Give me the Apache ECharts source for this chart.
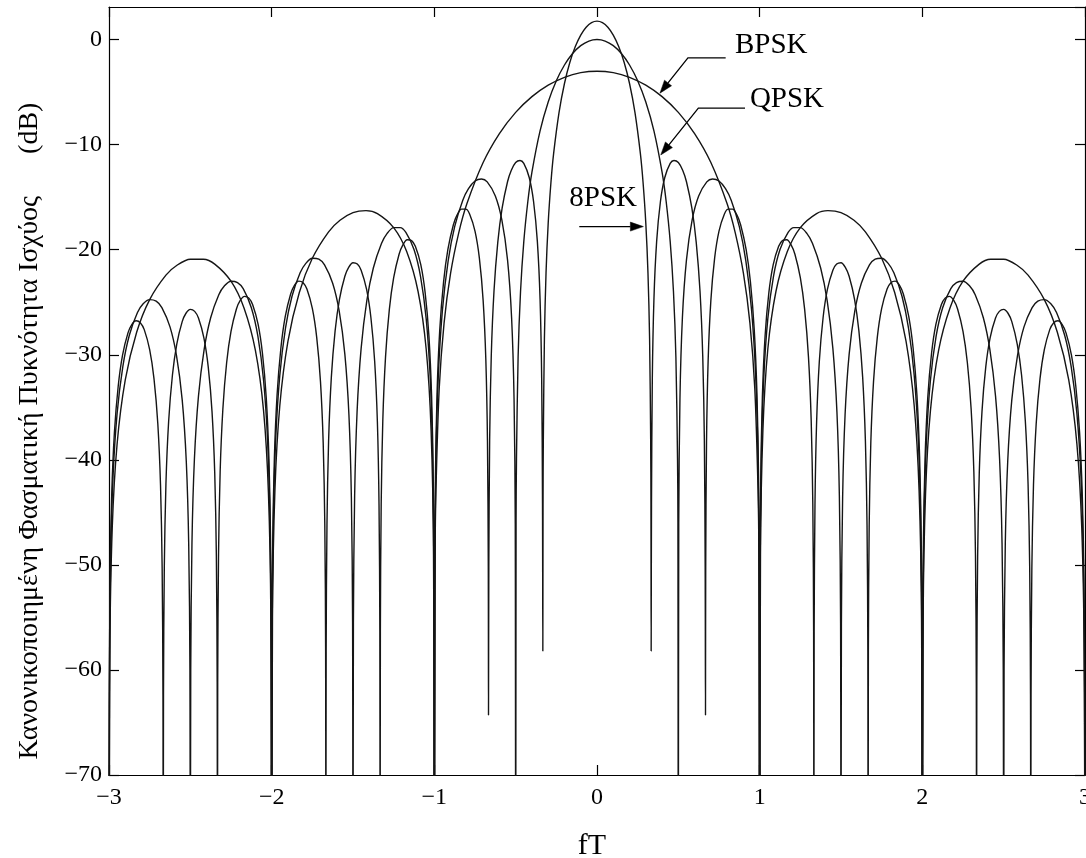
<!DOCTYPE html>
<html>
<head>
<meta charset="utf-8">
<script src="https://cdn.jsdelivr.net/npm/echarts@6/dist/echarts.min.js"></script>
<style>
html,body{margin:0;padding:0;background:#fff;overflow:hidden;width:1086px;height:858px;}
#chart{width:1086px;height:858px;}
</style>
</head>
<body>
<div id="chart"></div>
<script>
// ---------------- data ----------------
const xTicks = [-3, -2, -1, 0, 1, 2, 3];
const yTicks = [-70, -60, -50, -40, -30, -20, -10, 0];

const bpskF = [
-3, -2.995, -2.98, -2.95, -2.9, -2.83, -2.75, -2.65, -2.58, -2.5, -2.42, -2.35, -2.25, -2.17, -2.1, -2.05, -2.02, -2.005,
-2, -1.995, -1.98, -1.95, -1.9, -1.83, -1.75, -1.65, -1.58, -1.5, -1.42, -1.35, -1.25, -1.17, -1.1, -1.05, -1.02, -1.005,
-1, -0.995, -0.99, -0.97, -0.94, -0.9, -0.85, -0.8, -0.7, -0.6, -0.5, -0.4, -0.3, -0.2, -0.1,
0, 0.1, 0.2, 0.3, 0.4, 0.5, 0.6, 0.7, 0.8, 0.85, 0.9, 0.94, 0.97, 0.99, 0.995,
1, 1.005, 1.02, 1.05, 1.1, 1.17, 1.25, 1.35, 1.42, 1.5, 1.58, 1.65, 1.75, 1.83, 1.9, 1.95, 1.98, 1.995,
2, 2.005, 2.02, 2.05, 2.1, 2.17, 2.25, 2.35, 2.42, 2.5, 2.58, 2.65, 2.75, 2.83, 2.9, 2.95, 2.98, 2.995,
3];
const bpskDb = [
-90, -58.56, -46.47, -38.46, -32.40, -27.86, -24.75, -22.42, -21.46, -20.91, -20.91, -21.37, -23.00, -25.55, -29.59, -35.30, -43.10, -55.07,
-90, -55.03, -42.92, -34.86, -28.73, -24.07, -20.82, -18.30, -17.20, -16.47, -16.28, -16.56, -17.90, -20.18, -23.98, -29.48, -37.16, -49.07,
-90, -48.99, -42.92, -33.22, -26.96, -22.24, -18.40, -15.63, -11.70, -8.95, -6.93, -5.43, -4.34, -3.59, -3.15,
-3.01, -3.15, -3.59, -4.34, -5.43, -6.93, -8.95, -11.70, -15.63, -18.40, -22.24, -26.96, -33.22, -42.92, -48.99,
-90, -49.07, -37.16, -29.48, -23.98, -20.18, -17.90, -16.56, -16.28, -16.47, -17.20, -18.30, -20.82, -24.07, -28.73, -34.86, -42.92, -55.03,
-90, -55.07, -43.10, -35.30, -29.59, -25.55, -23.00, -21.37, -20.91, -20.91, -21.46, -22.42, -24.75, -27.86, -32.40, -38.46, -46.47, -58.56,
-90];

const qpskF = [
-3, -2.9975, -2.99, -2.975, -2.95, -2.915, -2.875, -2.825, -2.79, -2.75, -2.71, -2.675, -2.625, -2.585, -2.55, -2.525, -2.51, -2.5025,
-2.5, -2.4975, -2.49, -2.475, -2.45, -2.415, -2.375, -2.325, -2.29, -2.25, -2.21, -2.175, -2.125, -2.085, -2.05, -2.025, -2.01, -2.0025,
-2, -1.9975, -1.99, -1.975, -1.95, -1.915, -1.875, -1.825, -1.79, -1.75, -1.71, -1.675, -1.625, -1.585, -1.55, -1.525, -1.51, -1.5025,
-1.5, -1.4975, -1.49, -1.475, -1.45, -1.415, -1.375, -1.325, -1.29, -1.25, -1.21, -1.175, -1.125, -1.085, -1.05, -1.025, -1.01, -1.0025,
-1, -0.9975, -0.99, -0.975, -0.95, -0.915, -0.875, -0.825, -0.79, -0.75, -0.71, -0.675, -0.625, -0.585, -0.55, -0.525, -0.51, -0.5025,
-0.5, -0.4975, -0.495, -0.485, -0.47, -0.45, -0.425, -0.4, -0.35, -0.3, -0.25, -0.2, -0.15, -0.1, -0.05,
0, 0.05, 0.1, 0.15, 0.2, 0.25, 0.3, 0.35, 0.4, 0.425, 0.45, 0.47, 0.485, 0.495, 0.4975,
0.5, 0.5025, 0.51, 0.525, 0.55, 0.585, 0.625, 0.675, 0.71, 0.75, 0.79, 0.825, 0.875, 0.915, 0.95, 0.975, 0.99, 0.9975,
1, 1.0025, 1.01, 1.025, 1.05, 1.085, 1.125, 1.175, 1.21, 1.25, 1.29, 1.325, 1.375, 1.415, 1.45, 1.475, 1.49, 1.4975,
1.5, 1.5025, 1.51, 1.525, 1.55, 1.585, 1.625, 1.675, 1.71, 1.75, 1.79, 1.825, 1.875, 1.915, 1.95, 1.975, 1.99, 1.9975,
2, 2.0025, 2.01, 2.025, 2.05, 2.085, 2.125, 2.175, 2.21, 2.25, 2.29, 2.325, 2.375, 2.415, 2.45, 2.475, 2.49, 2.4975,
2.5, 2.5025, 2.51, 2.525, 2.55, 2.585, 2.625, 2.675, 2.71, 2.75, 2.79, 2.825, 2.875, 2.915, 2.95, 2.975, 2.99, 2.9975,
3];
const qpskDb = [
-90, -61.58, -49.51, -41.54, -35.56, -31.12, -28.14, -25.98, -25.15, -24.75, -24.90, -25.51, -27.35, -30.08, -34.29, -40.12, -47.99, -60.00,
-90, -59.99, -47.93, -39.94, -33.94, -29.49, -26.48, -24.29, -23.44, -23.00, -23.13, -23.71, -25.52, -28.21, -32.40, -38.20, -46.07, -58.07,
-90, -58.05, -45.98, -37.98, -31.96, -27.47, -24.43, -22.19, -21.30, -20.82, -20.90, -21.44, -23.19, -25.83, -29.97, -35.74, -43.58, -55.57,
-90, -55.55, -43.46, -35.45, -29.39, -24.85, -21.74, -19.41, -18.45, -17.90, -17.90, -18.36, -19.99, -22.54, -26.58, -32.29, -40.09, -52.06,
-90, -52.02, -39.91, -31.85, -25.72, -21.06, -17.81, -15.29, -14.19, -13.46, -13.27, -13.55, -14.89, -17.17, -20.97, -26.47, -34.15, -46.06,
-90, -45.98, -39.91, -30.21, -23.95, -19.23, -15.39, -12.62, -8.69, -5.94, -3.92, -2.42, -1.33, -0.58, -0.14,
0, -0.14, -0.58, -1.33, -2.42, -3.92, -5.94, -8.69, -12.62, -15.39, -19.23, -23.95, -30.21, -39.91, -45.98,
-90, -46.06, -34.15, -26.47, -20.97, -17.17, -14.89, -13.55, -13.27, -13.46, -14.19, -15.29, -17.81, -21.06, -25.72, -31.85, -39.91, -52.02,
-90, -52.06, -40.09, -32.29, -26.58, -22.54, -19.99, -18.36, -17.90, -17.90, -18.45, -19.41, -21.74, -24.85, -29.39, -35.45, -43.46, -55.55,
-90, -55.57, -43.58, -35.74, -29.97, -25.83, -23.19, -21.44, -20.90, -20.82, -21.30, -22.19, -24.43, -27.47, -31.96, -37.98, -45.98, -58.05,
-90, -58.07, -46.07, -38.20, -32.40, -28.21, -25.52, -23.71, -23.13, -23.00, -23.44, -24.29, -26.48, -29.49, -33.94, -39.94, -47.93, -59.99,
-90, -60.00, -47.99, -40.12, -34.29, -30.08, -27.35, -25.51, -24.90, -24.75, -25.15, -25.98, -28.14, -31.12, -35.56, -41.54, -49.51, -61.58,
-90];

const psk8F = [
-3, -2.9983, -2.9933, -2.9833, -2.9667, -2.9433, -2.9167, -2.8833, -2.86, -2.8333, -2.8067, -2.7833, -2.75, -2.7233, -2.7, -2.6833, -2.6733, -2.6683,
-2.6667, -2.665, -2.66, -2.65, -2.6333, -2.61, -2.5833, -2.55, -2.5267, -2.5, -2.4733, -2.45, -2.4167, -2.39, -2.3667, -2.35, -2.34, -2.335,
-2.3333, -2.3317, -2.3267, -2.3167, -2.3, -2.2767, -2.25, -2.2167, -2.1933, -2.1667, -2.14, -2.1167, -2.0833, -2.0567, -2.0333, -2.0167, -2.0067, -2.0017,
-2, -1.9983, -1.9933, -1.9833, -1.9667, -1.9433, -1.9167, -1.8833, -1.86, -1.8333, -1.8067, -1.7833, -1.75, -1.7233, -1.7, -1.6833, -1.6733, -1.6683,
-1.6667, -1.665, -1.66, -1.65, -1.6333, -1.61, -1.5833, -1.55, -1.5267, -1.5, -1.4733, -1.45, -1.4167, -1.39, -1.3667, -1.35, -1.34, -1.335,
-1.3333, -1.3317, -1.3267, -1.3167, -1.3, -1.2767, -1.25, -1.2167, -1.1933, -1.1667, -1.14, -1.1167, -1.0833, -1.0567, -1.0333, -1.0167, -1.0067, -1.0017,
-1, -0.9983, -0.9933, -0.9833, -0.9667, -0.9433, -0.9167, -0.8833, -0.86, -0.8333, -0.8067, -0.7833, -0.75, -0.7233, -0.7, -0.6833, -0.6733, -0.6683,
-0.667, -0.665, -0.66, -0.65, -0.6333, -0.61, -0.5833, -0.55, -0.5267, -0.5, -0.4733, -0.45, -0.4167, -0.39, -0.3667, -0.35, -0.34, -0.335,
-0.333, -0.3317, -0.33, -0.3233, -0.3133, -0.3, -0.2833, -0.2667, -0.2333, -0.2, -0.1667, -0.1333, -0.1, -0.0667, -0.0333,
0, 0.0333, 0.0667, 0.1, 0.1333, 0.1667, 0.2, 0.2333, 0.2667, 0.2833, 0.3, 0.3133, 0.3233, 0.33, 0.3317,
0.333, 0.335, 0.34, 0.35, 0.3667, 0.39, 0.4167, 0.45, 0.4733, 0.5, 0.5267, 0.55, 0.5833, 0.61, 0.6333, 0.65, 0.66, 0.665,
0.667, 0.6683, 0.6733, 0.6833, 0.7, 0.7233, 0.75, 0.7833, 0.8067, 0.8333, 0.86, 0.8833, 0.9167, 0.9433, 0.9667, 0.9833, 0.9933, 0.9983,
1, 1.0017, 1.0067, 1.0167, 1.0333, 1.0567, 1.0833, 1.1167, 1.14, 1.1667, 1.1933, 1.2167, 1.25, 1.2767, 1.3, 1.3167, 1.3267, 1.3317,
1.3333, 1.335, 1.34, 1.35, 1.3667, 1.39, 1.4167, 1.45, 1.4733, 1.5, 1.5267, 1.55, 1.5833, 1.61, 1.6333, 1.65, 1.66, 1.665,
1.6667, 1.6683, 1.6733, 1.6833, 1.7, 1.7233, 1.75, 1.7833, 1.8067, 1.8333, 1.86, 1.8833, 1.9167, 1.9433, 1.9667, 1.9833, 1.9933, 1.9983,
2, 2.0017, 2.0067, 2.0167, 2.0333, 2.0567, 2.0833, 2.1167, 2.14, 2.1667, 2.1933, 2.2167, 2.25, 2.2767, 2.3, 2.3167, 2.3267, 2.3317,
2.3333, 2.335, 2.34, 2.35, 2.3667, 2.39, 2.4167, 2.45, 2.4733, 2.5, 2.5267, 2.55, 2.5833, 2.61, 2.6333, 2.65, 2.66, 2.665,
2.6667, 2.6683, 2.6733, 2.6833, 2.7, 2.7233, 2.75, 2.7833, 2.8067, 2.8333, 2.86, 2.8833, 2.9167, 2.9433, 2.9667, 2.9833, 2.9933, 2.9983,
3];
const psk8Db = [
-90, -63.34, -51.29, -43.33, -37.37, -32.97, -30.03, -27.92, -27.13, -26.77, -26.97, -27.61, -29.52, -32.29, -36.55, -42.41, -50.30, -62.33,
-90, -62.32, -50.26, -42.30, -36.33, -31.93, -28.98, -26.85, -26.05, -25.68, -25.87, -26.51, -28.40, -31.16, -35.41, -41.25, -49.15, -61.17,
-90, -61.16, -49.10, -41.13, -35.16, -30.74, -27.78, -25.64, -24.83, -24.44, -24.61, -25.24, -27.11, -29.86, -34.09, -39.93, -47.81, -59.83,
-90, -59.82, -47.75, -39.78, -33.80, -29.36, -26.38, -24.22, -23.39, -22.99, -23.14, -23.75, -25.59, -28.32, -32.53, -38.36, -46.23, -58.25,
-90, -58.23, -46.17, -38.18, -32.18, -27.73, -24.72, -22.53, -21.68, -21.24, -21.37, -21.95, -23.76, -26.45, -30.64, -36.44, -44.31, -56.31,
-90, -56.29, -44.22, -36.22, -30.20, -25.71, -22.67, -20.43, -19.54, -19.06, -19.14, -19.68, -21.43, -24.07, -28.21, -33.98, -41.82, -53.81,
-90, -53.79, -41.70, -33.69, -27.63, -23.09, -19.98, -17.65, -16.69, -16.14, -16.14, -16.60, -18.23, -20.78, -24.82, -30.53, -38.33, -50.30,
-64.3, -50.26, -38.15, -30.09, -23.96, -19.30, -16.05, -13.53, -12.43, -11.70, -11.51, -11.79, -13.13, -15.41, -19.21, -24.71, -32.39, -44.30,
-58.2, -44.22, -38.15, -28.45, -22.19, -17.47, -13.63, -10.86, -6.93, -4.18, -2.16, -0.66, 0.43, 1.18, 1.62,
1.76, 1.62, 1.18, 0.43, -0.66, -2.16, -4.18, -6.93, -10.86, -13.63, -17.47, -22.19, -28.45, -38.15, -44.22,
-58.2, -44.30, -32.39, -24.71, -19.21, -15.41, -13.13, -11.79, -11.51, -11.70, -12.43, -13.53, -16.05, -19.30, -23.96, -30.09, -38.15, -50.26,
-64.3, -50.30, -38.33, -30.53, -24.82, -20.78, -18.23, -16.60, -16.14, -16.14, -16.69, -17.65, -19.98, -23.09, -27.63, -33.69, -41.70, -53.79,
-90, -53.81, -41.82, -33.98, -28.21, -24.07, -21.43, -19.68, -19.14, -19.06, -19.54, -20.43, -22.67, -25.71, -30.20, -36.22, -44.22, -56.29,
-90, -56.31, -44.31, -36.44, -30.64, -26.45, -23.76, -21.95, -21.37, -21.24, -21.68, -22.53, -24.72, -27.73, -32.18, -38.18, -46.17, -58.23,
-90, -58.25, -46.23, -38.36, -32.53, -28.32, -25.59, -23.75, -23.14, -22.99, -23.39, -24.22, -26.38, -29.36, -33.80, -39.78, -47.75, -59.82,
-90, -59.83, -47.81, -39.93, -34.09, -29.86, -27.11, -25.24, -24.61, -24.44, -24.83, -25.64, -27.78, -30.74, -35.16, -41.13, -49.10, -61.16,
-90, -61.17, -49.15, -41.25, -35.41, -31.16, -28.40, -26.51, -25.87, -25.68, -26.05, -26.85, -28.98, -31.93, -36.33, -42.30, -50.26, -62.32,
-90, -62.33, -50.30, -42.41, -36.55, -32.29, -29.52, -27.61, -26.97, -26.77, -27.13, -27.92, -30.03, -32.97, -37.37, -43.33, -51.29, -63.34,
-90];

// annotations (data coordinates)
const annoNames = ['BPSK', 'QPSK', '8PSK'];
const annoTextAt = [[0.848, -0.59], [0.940, -5.74], [-0.170, -15.15]];
const annoPaths = [
  [[0.791, -1.74], [0.559, -1.74], [0.387, -5.10]],
  [[0.910, -6.53], [0.623, -6.53], [0.392, -10.98]],
  [[-0.109, -17.80], [0.285, -17.80]]
];

const xName = 'fT';
const yName = 'Κανονικοποιημένη Φασματική Πυκνότητα Ισχύος      (dB)';

// ---------------- chart ----------------
const FONT = '"Liberation Serif", "Times New Roman", serif';
const zip = (xs, ys) => xs.map((x, i) => [x, ys[i]]);
const minusFmt = v => (v < 0 ? '\u2212' + (-v) : String(v));

const chart = echarts.init(document.getElementById('chart'), null, {renderer: 'canvas', width: 1086, height: 858});

const axisCommon = () => ({
  type: 'value',
  axisLine: {show: true, onZero: false, lineStyle: {color: '#000', width: 1.2}},
  axisTick: {show: true, inside: true, length: 10, lineStyle: {color: '#000', width: 1.2}},
  splitLine: {show: false}
});

const lineSeries = (name, xs, ys) => ({
  name, type: 'line', data: zip(xs, ys),
  xAxisIndex: 0, yAxisIndex: 0,
  showSymbol: false, symbol: 'none', smooth: 0.3, clip: true,
  lineStyle: {color: '#151515', width: 1.4},
  animation: false, silent: true
});

chart.setOption({
  animation: false,
  backgroundColor: '#fff',
  grid: {left: 109, right: 1, top: 7, bottom: 83, containLabel: false, outerBoundsMode: 'none'},
  xAxis: [
    Object.assign(axisCommon(), {
      position: 'bottom', min: xTicks[0], max: xTicks[xTicks.length - 1], interval: 1,
      axisLabel: {show: true, margin: 11, color: '#000', fontFamily: FONT, fontSize: 24, formatter: minusFmt}
    }),
    Object.assign(axisCommon(), {
      position: 'top', min: xTicks[0], max: xTicks[xTicks.length - 1], interval: 1,
      axisLabel: {show: false}
    })
  ],
  yAxis: [
    Object.assign(axisCommon(), {
      position: 'left', min: yTicks[0], max: 3.1, interval: 10,
      axisLabel: {show: true, margin: 7, color: '#000', fontFamily: FONT, fontSize: 24,
        showMaxLabel: false, formatter: v => (v % 10 === 0 ? minusFmt(v) : '')}
    }),
    Object.assign(axisCommon(), {
      position: 'right', min: yTicks[0], max: 3.1, interval: 10,
      axisLabel: {show: false}
    })
  ],
  series: [
    lineSeries('BPSK', bpskF, bpskDb),
    lineSeries('QPSK', qpskF, qpskDb),
    lineSeries('8PSK', psk8F, psk8Db)
  ]
});

// annotations, axis titles
function buildGraphics() {
  const toPx = p => chart.convertToPixel({xAxisIndex: 0, yAxisIndex: 0}, p);
  const els = [];
  annoNames.forEach((name, i) => {
    const tp = toPx(annoTextAt[i]);
    els.push({type: 'text', x: tp[0], y: tp[1], silent: true,
      style: {text: name, font: '29px ' + FONT, fill: '#000',
        textAlign: 'left', textVerticalAlign: 'middle', align: 'left', verticalAlign: 'middle'}});
    const pts = annoPaths[i].map(toPx);
    const tip = pts[pts.length - 1], prev = pts[pts.length - 2];
    const dx = tip[0] - prev[0], dy = tip[1] - prev[1];
    const L = Math.sqrt(dx * dx + dy * dy), ux = dx / L, uy = dy / L;
    const hl = 13, hw = 4.5;
    const base = [tip[0] - ux * hl, tip[1] - uy * hl];
    const linePts = pts.slice(0, -1).concat([base]);
    els.push({type: 'polyline', silent: true, shape: {points: linePts},
      style: {stroke: '#000', lineWidth: 1.3, fill: null}});
    els.push({type: 'polygon', silent: true, shape: {points: [
      tip, [base[0] - uy * hw, base[1] + ux * hw], [base[0] + uy * hw, base[1] - ux * hw]]},
      style: {fill: '#000', stroke: '#000', lineWidth: 0.5}});
  });
  els.push({type: 'text', x: 592, y: 846, silent: true,
    style: {text: xName, font: '30px ' + FONT, fill: '#000',
      textAlign: 'center', textVerticalAlign: 'middle', align: 'center', verticalAlign: 'middle'}});
  els.push({type: 'text', x: 30, y: 431, rotation: Math.PI / 2, silent: true,
    style: {text: yName, font: '28px ' + FONT, fill: '#000',
      textAlign: 'center', textVerticalAlign: 'middle', align: 'center', verticalAlign: 'middle'}});
  chart.setOption({graphic: {elements: els}});
}
buildGraphics();
</script>
</body>
</html>
